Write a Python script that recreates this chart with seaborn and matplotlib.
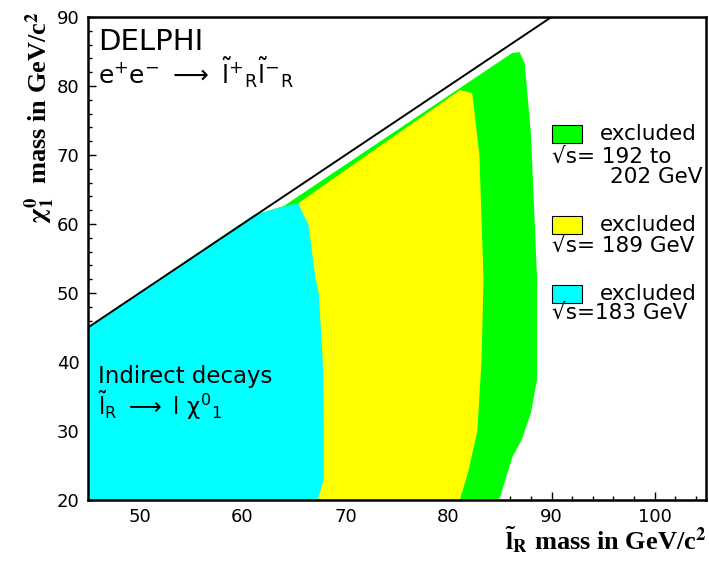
import matplotlib
matplotlib.use("Agg")
import matplotlib.pyplot as plt
import matplotlib.patches as mpatches
import seaborn as sns

# Exclusion contours (slepton mass, neutralino mass)
cyan_x = [45, 45, 61.1, 64.0, 65.4, 66.4, 67.1, 67.4, 67.8, 67.9, 67.9, 67.3]
cyan_y = [20, 45, 61.3, 62.5, 63.0, 59.9, 52.0, 50.0, 40.0, 30.0, 23.0, 20]

yellow_x = [45, 45, 61.1, 65.4, 81.1, 82.3, 83.0, 83.4, 83.2, 82.8, 81.9, 81.1]
yellow_y = [20, 45, 61.3, 63.0, 79.4, 79.0, 70.0, 52.0, 40.0, 30.0, 24.0, 20]

green_x = [45, 45, 61.1, 64.0, 86.2, 86.9, 87.4, 88.0, 88.6, 88.6, 88.0, 87.1, 86.2, 85.0, 84.8]
green_y = [20, 45, 61.3, 62.6, 84.8, 84.9, 83.3, 73.2, 52.0, 37.5, 32.6, 28.7, 26.2, 20.4, 20]

# kinematic limit m(chi) = m(slepton)
diag_x = [45, 90]
diag_y = [45, 90]

GREEN, YELLOW, CYAN = "#00ff00", "#ffff00", "#00ffff"

sns.set_style("white")
plt.rcParams["font.family"] = ["DejaVu Sans"]
plt.rcParams["mathtext.fontset"] = "dejavusans"
plt.rcParams["mathtext.default"] = "regular"
plt.rcParams["text.color"] = "black"
plt.rcParams["xtick.color"] = "black"
plt.rcParams["ytick.color"] = "black"

fig = plt.figure(figsize=(7.09, 5.63), dpi=100)
ax = fig.add_axes([88 / 709, 63 / 563, 618 / 709, 483 / 563])

ax.fill(green_x, green_y, color=GREEN, lw=0)
ax.fill(yellow_x, yellow_y, color=YELLOW, lw=0)
ax.fill(cyan_x, cyan_y, color=CYAN, lw=0)
sns.lineplot(x=diag_x, y=diag_y, color="black", lw=1.4, ax=ax)

ax.set_xlim(45, 105)
ax.set_ylim(20, 90)
ax.set_xticks(range(50, 101, 10))
ax.set_yticks(range(20, 91, 10))
ax.set_xticks([x for x in range(46, 105, 2) if x % 10], minor=True)
ax.set_yticks([y for y in range(22, 90, 2) if y % 10], minor=True)
ax.tick_params(which="both", direction="in", top=False, right=False,
               bottom=True, left=True, color="black", width=1)
ax.tick_params(which="major", length=6, labelsize=13)
ax.tick_params(axis="x", which="major", pad=6)
ax.tick_params(axis="y", which="major", pad=6)
ax.tick_params(which="minor", length=3)
for sp in ax.spines.values():
    sp.set_linewidth(1.8)
    sp.set_color("black")

# annotations
ax.text(0.016, 0.948, "DELPHI", fontsize=21, va="center", transform=ax.transAxes)
ax.text(0.016, 0.884, r"$e^{+}e^{-}\ \longrightarrow\ \tilde{l}^{+}{}_{R}\tilde{l}^{-}{}_{R}$",
        fontsize=18, va="center", transform=ax.transAxes)
ax.text(0.016, 0.255, "Indirect decays", fontsize=16.5, va="center", transform=ax.transAxes)
ax.text(0.016, 0.195, r"$\tilde{l}_{R}\ \longrightarrow\ l\ \chi^{0}{}_{1}$",
        fontsize=16.5, va="center", transform=ax.transAxes)

# legend boxes
legend = [
    (GREEN, 0.739, "\u221as= 192 to", 0.71),
    (YELLOW, 0.551, "\u221as= 189 GeV", 0.526),
    (CYAN, 0.408, "\u221as=183 GeV", 0.387),
]
for col, fy, line, ty in legend:
    ax.add_patch(mpatches.Rectangle((0.751, fy), 0.048, 0.037, transform=ax.transAxes,
                                    facecolor=col, edgecolor="black", lw=0.8))
    ax.text(0.828, fy + 0.018, "excluded", fontsize=15.5, va="center", transform=ax.transAxes)
    ax.text(0.751, ty, line, fontsize=15.5, va="center", transform=ax.transAxes)
ax.text(0.845, 0.668, "202 GeV", fontsize=15.5, va="center", transform=ax.transAxes)

# axis titles
fig.text(40 / 709, 1 - 12 / 563, r"$\mathbf{\chi_1^0}$  mass in GeV/c$^\mathbf{2}$",
         rotation=90, ha="center", va="top", fontsize=19, fontweight="bold",
         family="Liberation Serif", math_fontfamily="stix")
fig.text(706 / 709, 1 - 540 / 563, r"$\mathbf{\tilde{l}_R}$ mass in GeV/c$^\mathbf{2}$",
         ha="right", va="center", fontsize=19, fontweight="bold",
         family="Liberation Serif", math_fontfamily="stix")

fig.savefig("out.png", dpi=100)
